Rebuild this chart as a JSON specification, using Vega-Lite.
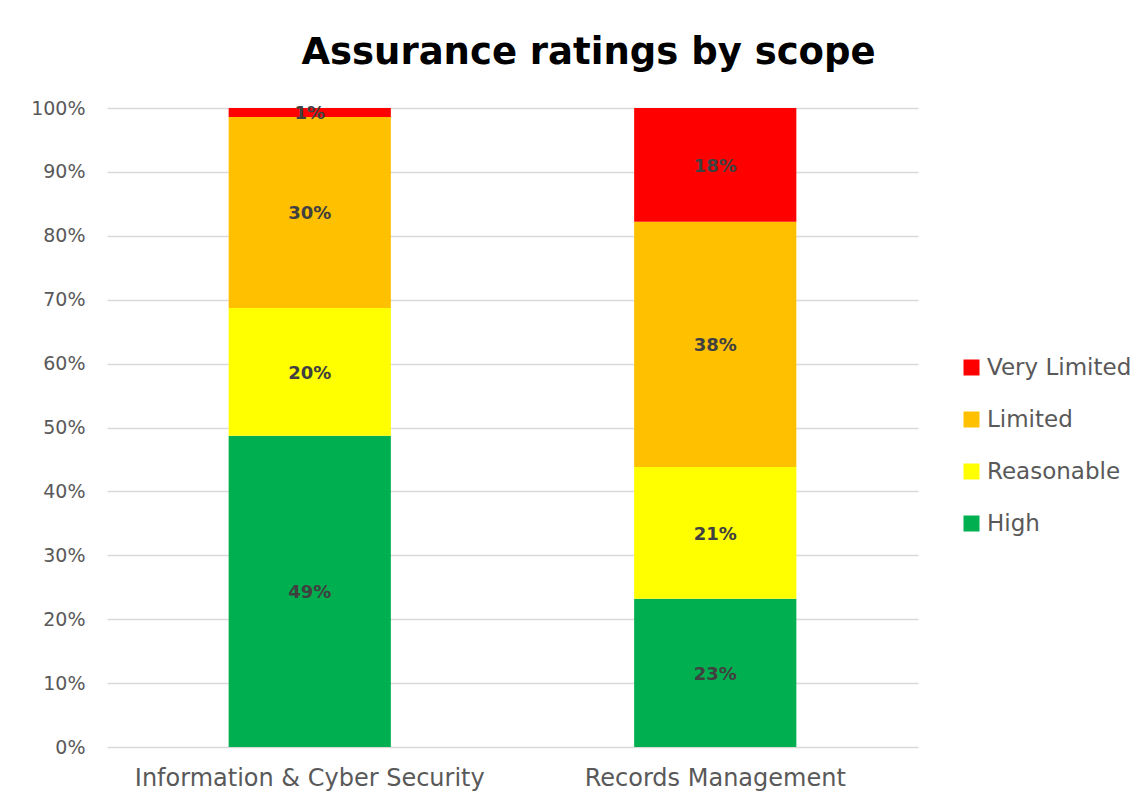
{
  "$schema": "https://vega.github.io/schema/vega-lite/v6.json",
  "autosize": {"type": "none"},
  "padding": {"left": 107, "top": 108, "right": 230, "bottom": 58},
  "width": 811,
  "height": 639,
  "background": "white",
  "title": {
    "text": "Assurance ratings by scope",
    "font": "DejaVu Sans",
    "fontSize": 37,
    "fontWeight": "bold",
    "color": "#000000",
    "anchor": "middle",
    "baseline": "alphabetic",
    "offset": -2,
    "dx": 76
  },
  "data": {
    "values": [
      {"scope": "Information & Cyber Security", "rating": "High", "rank": 1, "share": 0.487},
      {"scope": "Information & Cyber Security", "rating": "Reasonable", "rank": 2, "share": 0.200},
      {"scope": "Information & Cyber Security", "rating": "Limited", "rank": 3, "share": 0.299},
      {"scope": "Information & Cyber Security", "rating": "Very Limited", "rank": 4, "share": 0.014},
      {"scope": "Records Management", "rating": "High", "rank": 1, "share": 0.232},
      {"scope": "Records Management", "rating": "Reasonable", "rank": 2, "share": 0.206},
      {"scope": "Records Management", "rating": "Limited", "rank": 3, "share": 0.384},
      {"scope": "Records Management", "rating": "Very Limited", "rank": 4, "share": 0.178}
    ]
  },
  "encoding": {
    "x": {
      "field": "scope",
      "type": "nominal",
      "sort": null,
      "scale": {"paddingInner": 0.6, "paddingOuter": 0.3},
      "axis": {
        "title": null,
        "labelAngle": 0,
        "labelFont": "DejaVu Sans",
        "labelFontSize": 24,
        "labelColor": "#595959",
        "labelPadding": 19,
        "labelLimit": 600,
        "ticks": false,
        "domain": false
      }
    },
    "y": {
      "field": "share",
      "type": "quantitative",
      "stack": "zero",
      "scale": {"domain": [0, 1], "nice": false},
      "axis": {
        "title": null,
        "format": ".0%",
        "values": [0, 0.1, 0.2, 0.3, 0.4, 0.5, 0.6, 0.7, 0.8, 0.9, 1],
        "labelFont": "DejaVu Sans",
        "labelFontSize": 19,
        "labelColor": "#595959",
        "labelPadding": 22,
        "ticks": false,
        "domain": false,
        "grid": true,
        "gridColor": "#D9D9D9",
        "gridWidth": 1.5
      }
    },
    "order": {"field": "rank", "type": "quantitative"}
  },
  "layer": [
    {
      "mark": {"type": "bar"},
      "encoding": {
        "color": {
          "field": "rating",
          "type": "nominal",
          "scale": {
            "domain": ["Very Limited", "Limited", "Reasonable", "High"],
            "range": ["#FF0000", "#FFC000", "#FFFF00", "#00B050"]
          },
          "legend": {
            "title": null,
            "orient": "none",
            "legendX": 853,
            "legendY": 248,
            "symbolType": "square",
            "symbolSize": 256,
            "symbolStrokeWidth": 0,
            "labelFont": "DejaVu Sans",
            "labelFontSize": 23,
            "labelColor": "#595959",
            "labelOffset": 4,
            "labelLimit": 300,
            "rowPadding": 28
          }
        }
      }
    },
    {
      "mark": {
        "type": "text",
        "font": "DejaVu Sans",
        "fontSize": 18,
        "fontWeight": "bold",
        "color": "#404040",
        "baseline": "middle",
        "dy": 2
      },
      "encoding": {
        "y": {"field": "share", "type": "quantitative", "stack": "zero", "bandPosition": 0.5},
        "text": {"field": "share", "type": "quantitative", "format": ".0%"}
      }
    }
  ],
  "config": {
    "view": {"stroke": null}
  }
}
